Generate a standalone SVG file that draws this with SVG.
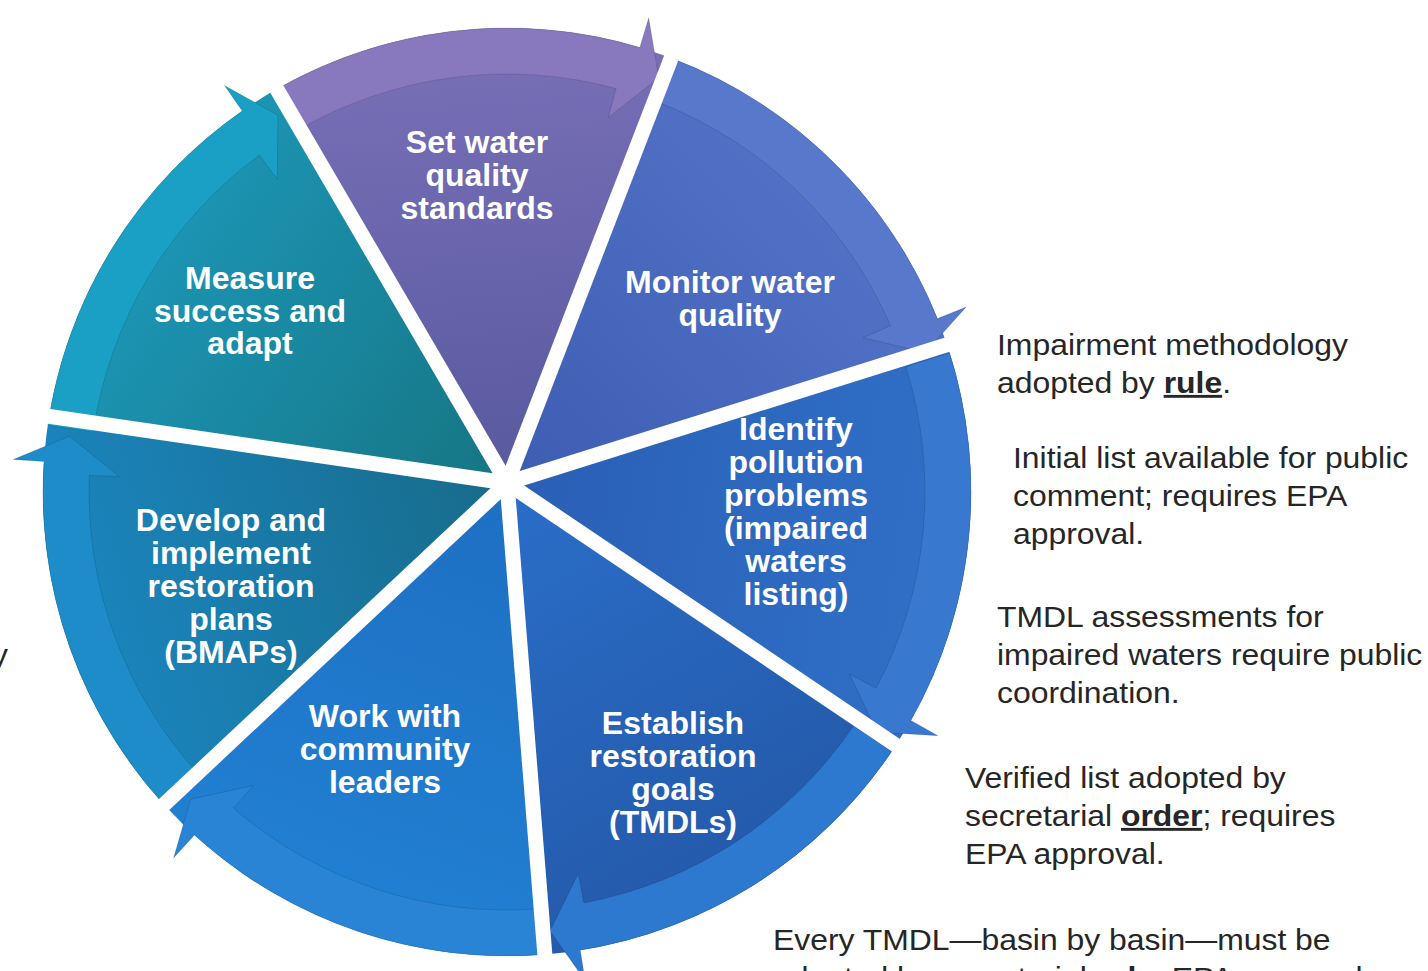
<svg xmlns="http://www.w3.org/2000/svg" width="1428" height="971" viewBox="0 0 1428 971">
<style>
.lbl{font-family:"Liberation Sans",Arial,sans-serif;font-weight:bold;font-size:32px;fill:#ffffff;text-anchor:middle}
.note{font-family:"Liberation Sans",Arial,sans-serif;font-size:29px;fill:#262626}
.em{font-weight:bold;text-decoration:underline}
.band{stroke:#000;stroke-opacity:0.12;stroke-width:1}
.gap{stroke:#ffffff;stroke-width:15;stroke-linecap:butt}
</style>
<defs>
<linearGradient id="gSet" gradientUnits="userSpaceOnUse" x1="507" y1="483" x2="471" y2="30"><stop offset="0" stop-color="#57599f"/><stop offset="1" stop-color="#7a70b8"/></linearGradient>
<linearGradient id="gMon" gradientUnits="userSpaceOnUse" x1="507" y1="483" x2="841" y2="170"><stop offset="0" stop-color="#3d5db3"/><stop offset="1" stop-color="#5273c8"/></linearGradient>
<linearGradient id="gIde" gradientUnits="userSpaceOnUse" x1="507" y1="483" x2="967" y2="550"><stop offset="0" stop-color="#2a5fb5"/><stop offset="1" stop-color="#3070c8"/></linearGradient>
<linearGradient id="gEst" gradientUnits="userSpaceOnUse" x1="507" y1="483" x2="745" y2="890"><stop offset="0" stop-color="#2a6ec9"/><stop offset="1" stop-color="#2459a9"/></linearGradient>
<linearGradient id="gWor" gradientUnits="userSpaceOnUse" x1="507" y1="483" x2="337" y2="924"><stop offset="0" stop-color="#1e6fc3"/><stop offset="1" stop-color="#2180d2"/></linearGradient>
<linearGradient id="gDev" gradientUnits="userSpaceOnUse" x1="507" y1="483" x2="62" y2="623"><stop offset="0" stop-color="#176b8a"/><stop offset="1" stop-color="#1b86c0"/></linearGradient>
<linearGradient id="gMea" gradientUnits="userSpaceOnUse" x1="507" y1="483" x2="126" y2="226"><stop offset="0" stop-color="#167583"/><stop offset="1" stop-color="#1c97b8"/></linearGradient>
</defs>

<g id="nodes">
<g id="n-set">
<path d="M507,483 L276.8,89.1 A464,464 0 0 1 671.2,58.0 Z" fill="url(#gSet)"/>
<text class="lbl"><tspan x="477" y="153">Set water</tspan><tspan x="477" y="186">quality</tspan><tspan x="477" y="219">standards</tspan></text>
</g>
<g id="n-monitor">
<path d="M507,483 L671.2,58.0 A464,464 0 0 1 947.1,344.7 Z" fill="url(#gMon)"/>
<text class="lbl"><tspan x="730" y="293">Monitor water</tspan><tspan x="730" y="326">quality</tspan></text>
</g>
<g id="n-identify">
<path d="M507,483 L947.1,344.7 A464,464 0 0 1 895.9,745.2 Z" fill="url(#gIde)"/>
<text class="lbl"><tspan x="796" y="440">Identify</tspan><tspan x="796" y="473">pollution</tspan><tspan x="796" y="506">problems</tspan><tspan x="796" y="539">(impaired</tspan><tspan x="796" y="572">waters</tspan><tspan x="796" y="605">listing)</tspan></text>
</g>
<g id="n-establish">
<path d="M507,483 L895.9,745.2 A464,464 0 0 1 544.8,954.5 Z" fill="url(#gEst)"/>
<text class="lbl"><tspan x="673" y="734">Establish</tspan><tspan x="673" y="767">restoration</tspan><tspan x="673" y="800">goals</tspan><tspan x="673" y="833">(TMDLs)</tspan></text>
</g>
<g id="n-work">
<path d="M507,483 L544.8,954.5 A464,464 0 0 1 163.9,804.6 Z" fill="url(#gWor)"/>
<text class="lbl"><tspan x="385" y="727">Work with</tspan><tspan x="385" y="760">community</tspan><tspan x="385" y="793">leaders</tspan></text>
</g>
<g id="n-develop">
<path d="M507,483 L163.9,804.6 A464,464 0 0 1 49.1,416.5 Z" fill="url(#gDev)"/>
<text class="lbl"><tspan x="231" y="531">Develop and</tspan><tspan x="231" y="564">implement</tspan><tspan x="231" y="597">restoration</tspan><tspan x="231" y="630">plans</tspan><tspan x="231" y="663">(BMAPs)</tspan></text>
</g>
<g id="n-measure">
<path d="M507,483 L49.1,416.5 A464,464 0 0 1 276.8,89.1 Z" fill="url(#gMea)"/>
<text class="lbl"><tspan x="250" y="289">Measure</tspan><tspan x="250" y="322">success and</tspan><tspan x="250" y="354">adapt</tspan></text>
</g>
</g>

<g id="connectors">
<path id="a-set-monitor" class="band" fill="#8878bd" d="M272.9,91.4 A464,464 0 0 1 639.8,47.4 L648.7,17.7 L658.8,77.9 L608.3,117.4 L616.1,88.5 A418,418 0 0 0 296.1,131.1 Z"/>
<path id="a-monitor-identify" class="band" fill="#5878cb" d="M674.3,59.2 A464,464 0 0 1 937.4,318.6 L966.2,307.0 L925.4,352.5 L863.0,337.7 L890.5,325.7 A418,418 0 0 0 657.7,102.1 Z"/>
<path id="a-identify-establish" class="band" fill="#3878cf" d="M949.7,352.9 A464,464 0 0 1 910.9,720.4 L937.9,735.7 L876.9,732.1 L849.6,674.1 L876.1,688.2 A418,418 0 0 0 905.8,366.7 Z"/>
<path id="a-establish-work" class="band" fill="#2d79d0" d="M891.7,751.4 A464,464 0 0 1 580.3,950.2 L585.2,980.8 L550.0,930.9 L578.3,873.4 L583.8,902.9 A418,418 0 0 0 853.6,725.7 Z"/>
<path id="a-work-develop" class="band" fill="#2984d6" d="M544.1,954.5 A464,464 0 0 1 194.5,835.0 L173.6,857.9 L190.6,799.2 L253.3,785.5 L233.6,808.2 A418,418 0 0 0 540.5,908.7 Z"/>
<path id="a-develop-measure" class="band" fill="#1e8cc8" d="M168.5,809.4 A464,464 0 0 1 44.0,461.5 L13.1,459.5 L69.5,436.2 L119.3,476.6 L89.3,475.4 A418,418 0 0 0 202.1,777.9 Z"/>
<path id="a-measure-set" class="band" fill="#1aa0c4" stroke="#0f5f6c" d="M47.8,425.3 A464,464 0 0 1 242.2,111.0 L224.5,85.5 L277.9,115.2 L277.3,179.3 L259.5,155.1 A418,418 0 0 0 93.3,431.9 Z"/>
</g>

<g id="gaps">
<line class="gap" x1="507" y1="483" x2="262.3" y2="64.3"/>
<line class="gap" x1="507" y1="483" x2="681.8" y2="30.6"/>
<line class="gap" x1="507" y1="483" x2="969.7" y2="337.6"/>
<line class="gap" x1="507" y1="483" x2="909.1" y2="754.1"/>
<line class="gap" x1="507" y1="483" x2="545.8" y2="966.4"/>
<line class="gap" x1="507" y1="483" x2="153.2" y2="814.7"/>
<line class="gap" x1="507" y1="483" x2="27.0" y2="413.2"/>
</g>

<g id="notes">
<g transform="translate(997,0) scale(1.1,1)"><text class="note"><tspan x="0" y="355">Impairment methodology</tspan><tspan x="0" y="393">adopted by <tspan class="em">rule</tspan>.</tspan></text></g>
<g transform="translate(1013,0) scale(1.1,1)"><text class="note"><tspan x="0" y="468">Initial list available for public</tspan><tspan x="0" y="506">comment; requires EPA</tspan><tspan x="0" y="544">approval.</tspan></text></g>
<g transform="translate(997,0) scale(1.1,1)"><text class="note"><tspan x="0" y="627">TMDL assessments for</tspan><tspan x="0" y="665">impaired waters require public</tspan><tspan x="0" y="703">coordination.</tspan></text></g>
<g transform="translate(965,0) scale(1.1,1)"><text class="note"><tspan x="0" y="788">Verified list adopted by</tspan><tspan x="0" y="826">secretarial <tspan class="em">order</tspan>; requires</tspan><tspan x="0" y="864">EPA approval.</tspan></text></g>
<g transform="translate(773,0) scale(1.1,1)"><text class="note"><tspan x="0" y="950">Every TMDL—basin by basin—must be</tspan><tspan x="0" y="988">adopted by secretarial <tspan class="em">rule</tspan>; EPA approval</tspan></text></g>
<g transform="translate(8,0) scale(1.1,1)"><text class="note" text-anchor="end" x="0" y="665">y</text></g>
</g>
</svg>
